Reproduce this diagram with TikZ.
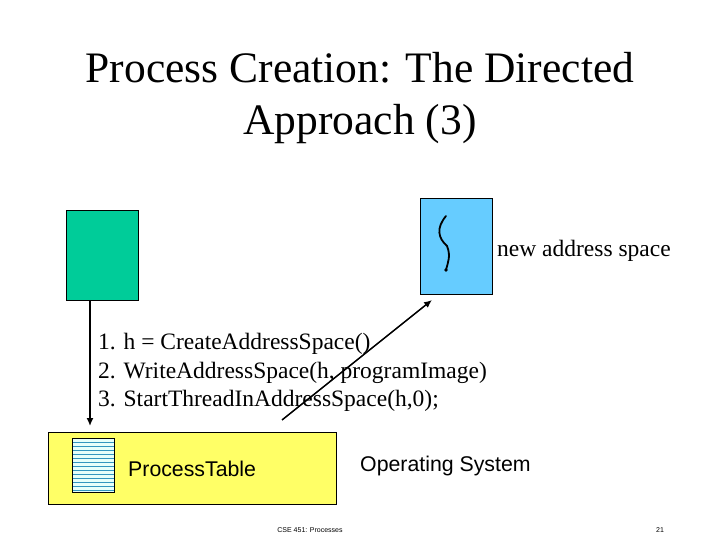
\documentclass[tikz,border=0pt]{standalone}
\usepackage{fontspec}
\setmainfont{Liberation Serif}
\setsansfont{Liberation Sans}
\usetikzlibrary{arrows.meta}
\usetikzlibrary{positioning}
\tikzstyle{every node}+=[inner sep=0pt]
\tikzstyle{box} = [rectangle, draw, line width=0.8pt, anchor=north west]
\tikzstyle{line} = [draw, line width=1.5pt, -{Latex[length=8pt,width=7pt]}]
\tikzstyle{stmt} = [anchor=west, font=\fontsize{23.5}{28}\selectfont]
\begin{document}
\begin{tikzpicture}[x=1pt, y=-1pt]
            \useasboundingbox[fill=white] (0,0) rectangle (720,540);
            % Title
            \node [align=center, font=\fontsize{43.5}{52}\selectfont] (title) at (360,98) {Process Creation: The Directed\\Approach (3)};
            % Place boxes
            \node [box, fill={rgb,255:red,0;green,204;blue,153}, minimum width=72pt, minimum height=90pt] (parent) at (66,210) {};
            \node [box, fill={rgb,255:red,102;green,204;blue,255}, minimum width=72pt, minimum height=96pt] (space) at (420,198) {};
            \node [anchor=west, font=\fontsize{23.5}{28}\selectfont] (spacelbl) at (497,251) {new address space};
            \node [box, fill={rgb,255:red,255;green,255;blue,102}, minimum width=288pt, minimum height=72pt] (os) at (48,432) {};
            \node [box, fill={rgb,255:red,230;green,255;blue,250}, minimum width=42pt, minimum height=54pt] (table) at (72,438) {};
            \foreach \y in {442,446,...,490}
              \draw [cyan!50!teal, line width=0.5pt] (72,\y) -- (114,\y);
            \draw [line width=0.8pt] (table.north west) rectangle (table.south east);
            \node [anchor=west, font=\sffamily\fontsize{21.3}{25}\selectfont] (tablelbl) at (128,469) {ProcessTable};
            \node [anchor=west, font=\sffamily\fontsize{21.3}{25}\selectfont] (oslbl) at (360,466) {Operating System};
            % Thread
            \draw [line width=1.8pt, line cap=round] (446,216) .. controls (436,228) and (438,238) .. (447,246) .. controls (451,256) and (448,262) .. (446,270);
            \fill (446,270) circle (1.8pt);
            % Statements
            \node [stmt] (s1) at (98,344) {1. h = CreateAddressSpace()};
            \node [stmt] (s2) at (98,373) {2. WriteAddressSpace(h, programImage)};
            \node [stmt] (s3) at (98,401) {3. StartThreadInAddressSpace(h,0);};
            % Draw edges
            \coordinate (down) at (90,300);
            \coordinate (into) at (90,426);
            \coordinate (start) at (282,420);
            \coordinate (up) at (432,300);
            \path [line] (down) -- (into);
            \path [line] (start) -- (up);
            % Footer
            \node [font=\sffamily\fontsize{7}{8}\selectfont] (footer) at (310,530) {CSE 451: Processes};
            \node [font=\sffamily\fontsize{7}{8}\selectfont] (page) at (660,530) {21};
          \end{tikzpicture}
\end{document}
